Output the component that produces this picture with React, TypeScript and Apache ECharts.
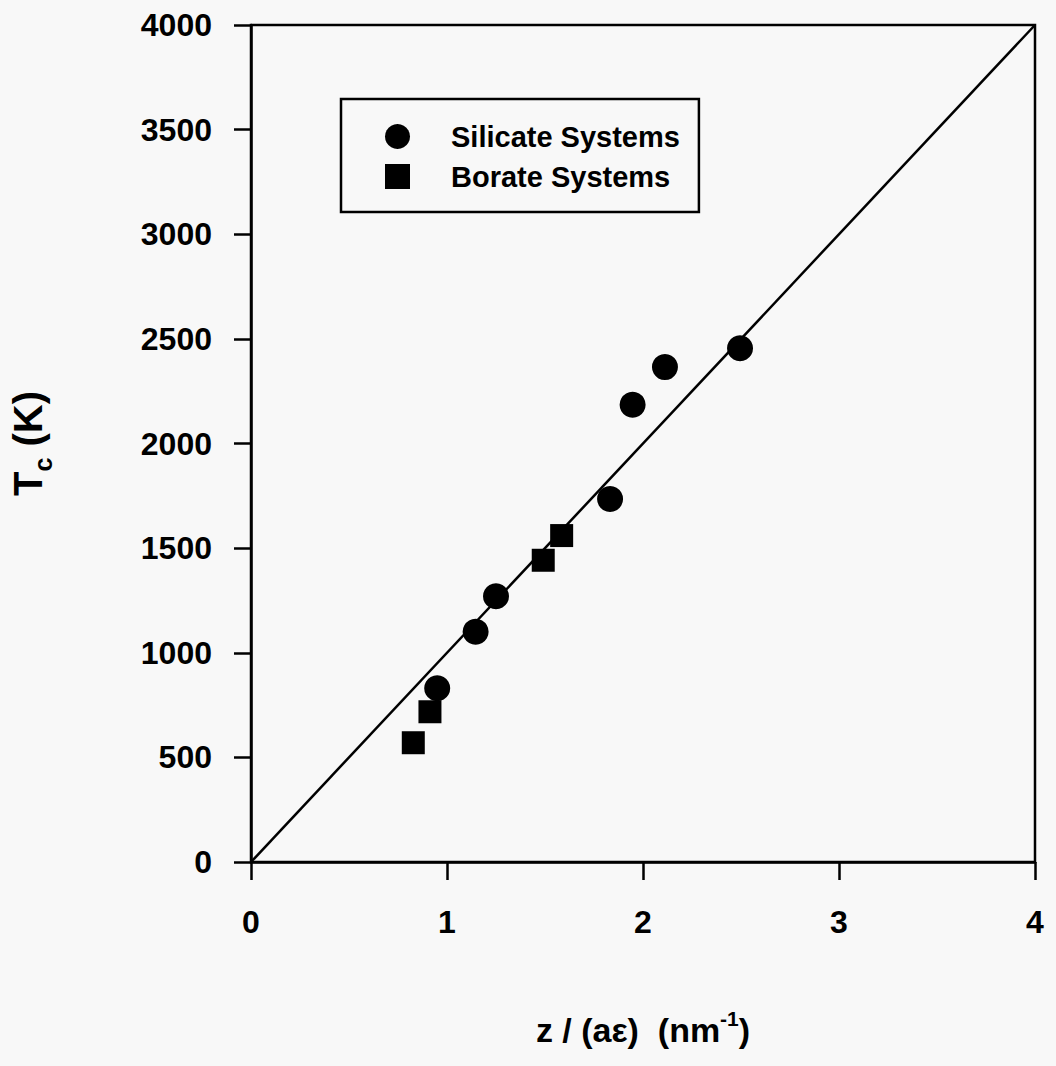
import React, { useEffect, useRef } from "react";
import * as echarts from "echarts";

const FONT = "'Liberation Sans', Arial, sans-serif";

// z/(a·eps) in nm^-1 , Tc in K
const silicateX = [0.95, 1.146, 1.25, 1.832, 1.947, 2.112, 2.495];
const silicateY = [830, 1100, 1270, 1735, 2185, 2365, 2455];
const borateX = [0.828, 0.913, 1.491, 1.585];
const borateY = [570, 718, 1442, 1560];
const fitX = [0, 4];
const fitY = [0, 4000];

const xTicks = [0, 1, 2, 3, 4];
const yTicks = [0, 500, 1000, 1500, 2000, 2500, 3000, 3500, 4000];

const legendNames = ["Silicate Systems", "Borate Systems"];

export default function App() {
  const ref = useRef<HTMLDivElement>(null);
  useEffect(() => {
    if (!ref.current) return;
    const chart = echarts.init(ref.current, undefined, { renderer: "svg" });
    const pair = (xs: number[], ys: number[]) => xs.map((x, i) => [x, ys[i]]);
    chart.setOption({
      animation: false,
      backgroundColor: "#f8f8f8",
      textStyle: { fontFamily: FONT, color: "#000" },
      grid: {
        left: 251,
        right: 21,
        top: 25,
        bottom: 204,
        show: true,
        borderColor: "#000",
        borderWidth: 2.5,
        containLabel: false,
        outerBoundsMode: "none",
      },
      legend: {
        orient: "vertical",
        left: 341,
        top: 99,
        itemWidth: 25,
        itemHeight: 25,
        itemGap: 11,
        padding: [23, 19, 21, 44],
        borderColor: "#000",
        borderWidth: 2.5,
        backgroundColor: "#f8f8f8",
        textStyle: {
          fontSize: 29,
          fontWeight: "bold",
          color: "#000",
          fontFamily: FONT,
          padding: [0, 0, 0, 36],
        },
        data: [
          { name: legendNames[0], icon: "circle" },
          { name: legendNames[1], icon: "rect" },
        ],
      },
      xAxis: {
        type: "value",
        min: xTicks[0],
        max: xTicks[xTicks.length - 1],
        interval: 1,
        name: "z / (aε)  (nm{sup|-1})",
        nameLocation: "middle",
        nameGap: 146,
        nameTextStyle: {
          fontSize: 34,
          fontWeight: "bold",
          color: "#000",
          fontFamily: FONT,
          lineHeight: 44,
          rich: {
            sup: {
              fontSize: 21,
              fontWeight: "bold",
              verticalAlign: "top",
              lineHeight: 21,
              fontFamily: FONT,
              color: "#000",
            },
          },
        },
        axisLine: { show: true, onZero: false, lineStyle: { color: "#000", width: 2.5 } },
        axisTick: { show: true, inside: false, length: 18, lineStyle: { color: "#000", width: 2.5 } },
        axisLabel: {
          fontSize: 32,
          fontWeight: "bold",
          color: "#000",
          fontFamily: FONT,
          margin: 44,
          formatter: (v: number) => String(v),
        },
        splitLine: { show: false },
      },
      yAxis: {
        type: "value",
        min: yTicks[0],
        max: yTicks[yTicks.length - 1],
        interval: 500,
        name: "T{sub|c} (K)",
        nameLocation: "middle",
        nameGap: 196,
        nameTextStyle: {
          fontSize: 40,
          fontWeight: "bold",
          color: "#000",
          fontFamily: FONT,
          lineHeight: 54,
          rich: {
            sub: {
              fontSize: 25,
              fontWeight: "bold",
              verticalAlign: "bottom",
              lineHeight: 25,
              fontFamily: FONT,
              color: "#000",
            },
          },
        },
        axisLine: { show: true, onZero: false, lineStyle: { color: "#000", width: 2.5 } },
        axisTick: { show: true, inside: false, length: 17, lineStyle: { color: "#000", width: 2.5 } },
        axisLabel: {
          fontSize: 32,
          fontWeight: "bold",
          color: "#000",
          fontFamily: FONT,
          margin: 39,
          formatter: (v: number) => String(v),
        },
        splitLine: { show: false },
      },
      series: [
        {
          name: "fit",
          type: "line",
          data: pair(fitX, fitY),
          showSymbol: false,
          symbol: "none",
          lineStyle: { color: "#000", width: 2.5 },
          z: 1,
        },
        {
          name: legendNames[0],
          type: "scatter",
          data: pair(silicateX, silicateY),
          symbol: "circle",
          symbolSize: 26,
          itemStyle: { color: "#000", opacity: 1 },
          z: 3,
        },
        {
          name: legendNames[1],
          type: "scatter",
          data: pair(borateX, borateY),
          symbol: "rect",
          symbolSize: 23,
          itemStyle: { color: "#000", opacity: 1 },
          z: 3,
        },
      ],
    });
    return () => chart.dispose();
  }, []);
  return (
    <div
      ref={ref}
      style={{ position: "fixed", left: 0, top: 0, width: 1056, height: 1066, background: "#f8f8f8" }}
    />
  );
}
